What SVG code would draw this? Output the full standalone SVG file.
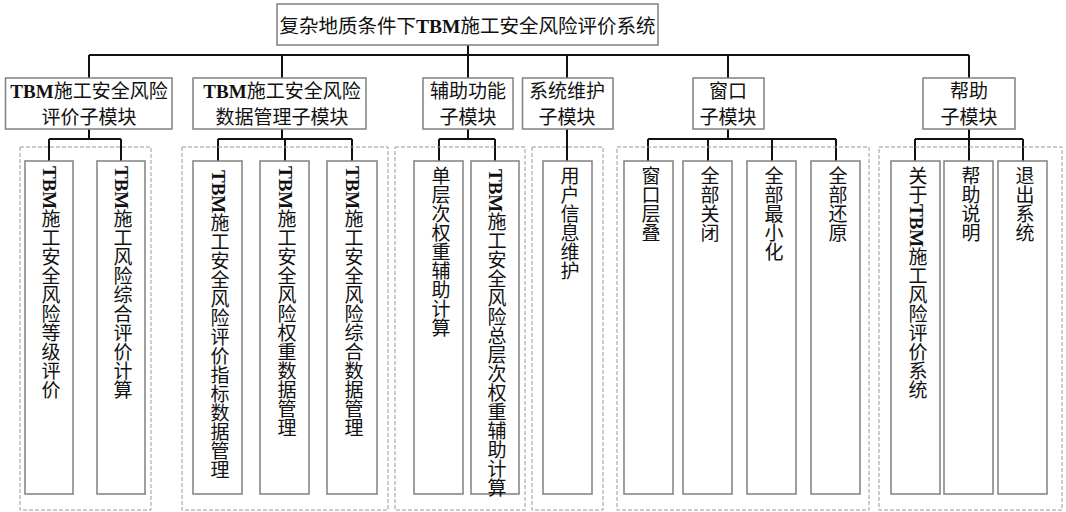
<svg xmlns="http://www.w3.org/2000/svg" width="1066" height="512" viewBox="0 0 1066 512">
<style>
.box{fill:#fff;stroke:#808080;stroke-width:1.5}
.grp{fill:none;stroke:#9a9a9a;stroke-width:1;stroke-dasharray:4 2}
.con{fill:none;stroke:#111;stroke-width:2}
.t{font-family:"Liberation Serif","Noto Sans CJK SC",serif;font-size:19px;fill:#111;text-anchor:middle}
.v{font-family:"Liberation Serif","Noto Sans CJK SC",serif;font-size:19px;fill:#111;writing-mode:vertical-rl;text-orientation:mixed}
.b{font-weight:bold}
</style>
<rect width="1066" height="512" fill="#fff"/>
<g id="connectors">
<path class="con" d="M468 45V55M89 55H969M89 55V78M282 55V78M468 55V78M567 55V78M728 55V78M969 55V78"/>
<path class="con" d="M89 129V139M49 139H121M49 139V161M121 139V161"/>
<path class="con" d="M282 129V139M218 139H352M218 139V161M285 139V161M352 139V161"/>
<path class="con" d="M468 129V139M439 139H495M439 139V161M495 139V161"/>
<path class="con" d="M567 129V161"/>
<path class="con" d="M728 129V139M648 139H836M648 139V161M708 139V161M772 139V161M836 139V161"/>
<path class="con" d="M969 129V139M915 139H1023M915 139V161M969 139V161M1023 139V161"/>
</g>
<g id="root"><rect class="box" x="277" y="4" width="381" height="41"/><text class="t" x="467.5" y="33" style="font-size:19.5px">复杂地质条件下<tspan class="b">TBM</tspan>施工安全风险评价系统</text></g>
<g id="m1"><rect class="box" x="5.5" y="78" width="166.5" height="51"/><text class="t" x="89" y="98"><tspan class="b">TBM</tspan>施工安全风险</text><text class="t" x="89" y="124">评价子模块</text></g>
<g id="m2"><rect class="box" x="193" y="78" width="173" height="51"/><text class="t" x="282" y="98"><tspan class="b">TBM</tspan>施工安全风险</text><text class="t" x="282" y="124">数据管理子模块</text></g>
<g id="m3"><rect class="box" x="423" y="78" width="90" height="51"/><text class="t" x="468" y="98">辅助功能</text><text class="t" x="468" y="124">子模块</text></g>
<g id="m4"><rect class="box" x="522.5" y="78" width="90.5" height="51"/><text class="t" x="567" y="98">系统维护</text><text class="t" x="567" y="124">子模块</text></g>
<g id="m5"><rect class="box" x="693" y="78" width="71" height="51"/><text class="t" x="728" y="98">窗口</text><text class="t" x="728" y="124">子模块</text></g>
<g id="m6"><rect class="box" x="923" y="78" width="92" height="51"/><text class="t" x="969" y="98">帮助</text><text class="t" x="969" y="124">子模块</text></g>
<g id="groups">
<rect class="grp" x="20" y="147" width="131" height="363"/>
<rect class="grp" x="182" y="147" width="206" height="363"/>
<rect class="grp" x="395" y="147" width="130" height="363"/>
<rect class="grp" x="532" y="147" width="71" height="363"/>
<rect class="grp" x="617" y="147" width="252" height="363"/>
<rect class="grp" x="879" y="147" width="183" height="363"/>
</g>
<g id="l1"><rect class="box" x="25" y="161" width="48" height="333"/><text class="v" x="49" y="166"><tspan class="b">TBM</tspan>施工安全风险等级评价</text></g>
<g id="l2"><rect class="box" x="97" y="161" width="48" height="333"/><text class="v" x="121" y="166"><tspan class="b">TBM</tspan>施工风险综合评价计算</text></g>
<g id="l3"><rect class="box" x="193" y="161" width="49" height="333"/><text class="v" x="218" y="170"><tspan class="b">TBM</tspan>施工安全风险评价指标数据管理</text></g>
<g id="l4"><rect class="box" x="260" y="161" width="49" height="333"/><text class="v" x="285" y="166"><tspan class="b">TBM</tspan>施工安全风险权重数据管理</text></g>
<g id="l5"><rect class="box" x="327" y="161" width="50" height="333"/><text class="v" x="352" y="166"><tspan class="b">TBM</tspan>施工安全风险综合数据管理</text></g>
<g id="l6"><rect class="box" x="414" y="161" width="49" height="333"/><text class="v" x="439" y="166">单层次权重辅助计算</text></g>
<g id="l7"><rect class="box" x="471" y="161" width="48" height="333"/><text class="v" x="495" y="169"><tspan class="b">TBM</tspan>施工安全风险总层次权重辅助计算</text></g>
<g id="l8"><rect class="box" x="543" y="161" width="49" height="333"/><text class="v" x="568" y="166">用户信息维护</text></g>
<g id="l9"><rect class="box" x="624" y="161" width="49" height="333"/><text class="v" x="649" y="166">窗口层叠</text></g>
<g id="l10"><rect class="box" x="683" y="161" width="49" height="333"/><text class="v" x="708" y="166">全部关闭</text></g>
<g id="l11"><rect class="box" x="747" y="161" width="49" height="333"/><text class="v" x="772" y="166">全部最小化</text></g>
<g id="l12"><rect class="box" x="811" y="161" width="49" height="333"/><text class="v" x="836" y="166">全部还原</text></g>
<g id="l13"><rect class="box" x="891" y="161" width="49" height="333"/><text class="v" x="916" y="166">关于<tspan class="b">TBM</tspan>施工风险评价系统</text></g>
<g id="l14"><rect class="box" x="944" y="161" width="49" height="333"/><text class="v" x="969" y="166">帮助说明</text></g>
<g id="l15"><rect class="box" x="998" y="161" width="49" height="333"/><text class="v" x="1023" y="166">退出系统</text></g>
</svg>
